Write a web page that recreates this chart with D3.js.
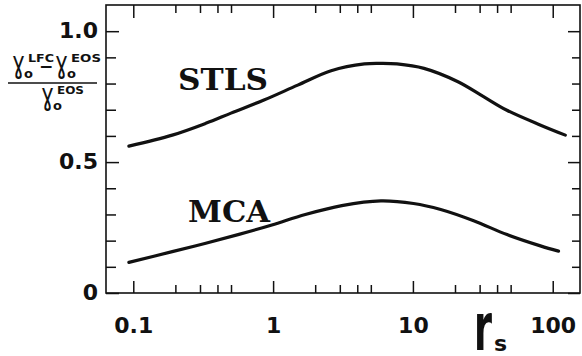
<!DOCTYPE html>
<html><head><meta charset="utf-8">
<script src="https://cdn.jsdelivr.net/npm/d3@7"></script>
<style>
html,body{margin:0;padding:0;background:#fff;}
svg{display:block;}
</style></head>
<body>
<script>
// ---- data ----
const stlsRs = [0.093, 0.19, 0.33, 0.5, 0.86, 1.5, 2.6, 4.5, 5.9, 7.7, 12, 21, 32, 47, 82, 123];
const stlsVals = [0.561, 0.603, 0.648, 0.687, 0.737, 0.794, 0.849, 0.875, 0.877, 0.875, 0.858, 0.807, 0.750, 0.698, 0.641, 0.603];
const mcaRs = [0.093, 0.19, 0.33, 0.57, 0.98, 1.7, 3.1, 5.9, 10.1, 15.8, 27.2, 47.1, 81.6, 110];
const mcaVals = [0.117, 0.158, 0.190, 0.224, 0.260, 0.300, 0.334, 0.352, 0.342, 0.319, 0.276, 0.223, 0.180, 0.160];
const xMajor = [0.1, 1, 10, 100];
const xMajorLabels = ["0.1", "1", "10", "100"];
const xMinor = [0.2, 0.3, 0.4, 0.5, 2, 3, 4, 5, 20, 30, 40, 50];
const yMajor = [0, 0.5, 1.0];
const yMajorLabels = ["0", "0.5", "1.0"];
const yMinor = [0.1, 0.2, 0.3, 0.4, 0.6, 0.7, 0.8, 0.9];

const W = 582, H = 356;
const L = 106, R = 580, T = 5, B = 293;

const svg = d3.select("body").append("svg").attr("width", W).attr("height", H);

const x = d3.scaleLog().domain([0.0638, 156.7]).range([L, R]);
const y = d3.scaleLinear().domain([0, 1.1]).range([B, T]);

const ink = "#111";
const tickFont = "'DejaVu Sans', sans-serif";

function axisGroup(axis, tx, ty) {
  const g = svg.append("g").attr("transform", `translate(${tx},${ty})`).call(axis);
  g.select(".domain").remove();
  g.selectAll(".tick line").attr("stroke", ink).attr("stroke-width", 1.5);
  return g;
}

// bottom major ticks with labels
const gb = axisGroup(d3.axisBottom(x).tickValues(xMajor).tickSize(-12).tickSizeOuter(0)
  .tickFormat((d, i) => xMajorLabels[i]), 0, B);
gb.selectAll(".tick text").attr("font-family", tickFont).attr("font-weight", "bold")
  .attr("font-size", 22).attr("fill", ink).attr("dy", "0").attr("y", 40);
axisGroup(d3.axisBottom(x).tickValues(xMinor).tickSize(-8).tickFormat(""), 0, B);
// top ticks
axisGroup(d3.axisTop(x).tickValues(xMajor).tickSize(-13).tickFormat(""), 0, T);
axisGroup(d3.axisTop(x).tickValues(xMinor).tickSize(-8).tickFormat(""), 0, T);

// left
const gl = axisGroup(d3.axisLeft(y).tickValues(yMajor).tickSize(-13)
  .tickFormat((d, i) => yMajorLabels[i]), L, 0);
gl.selectAll(".tick text").attr("font-family", tickFont).attr("font-weight", "bold")
  .attr("font-size", 22).attr("fill", ink).attr("x", -8).attr("dy", "0.3em");
axisGroup(d3.axisLeft(y).tickValues(yMinor).tickSize(-10).tickFormat(""), L, 0);
// right
axisGroup(d3.axisRight(y).tickValues(yMajor).tickSize(-12).tickFormat(""), R, 0);
axisGroup(d3.axisRight(y).tickValues(yMinor).tickSize(-8).tickFormat(""), R, 0);

// frame
svg.append("rect").attr("x", L).attr("y", T).attr("width", R - L).attr("height", B - T)
  .attr("fill", "none").attr("stroke", ink).attr("stroke-width", 1.6);

// curves
const line = d3.line().x(d => x(d[0])).y(d => y(d[1])).curve(d3.curveCatmullRom.alpha(0.5));
[[stlsRs, stlsVals], [mcaRs, mcaVals]].forEach(([xs, vs]) => {
  svg.append("path").datum(xs.map((r, i) => [r, vs[i]]))
    .attr("d", line).attr("fill", "none").attr("stroke", ink)
    .attr("stroke-width", 3.2).attr("stroke-linecap", "round");
});

// curve labels
const serif = "'DejaVu Serif', serif";
svg.append("text").attr("x", 178).attr("y", 90).text("STLS")
  .attr("font-family", serif).attr("font-weight", "bold").attr("font-size", 30)
  .attr("textLength", 90).attr("lengthAdjust", "spacingAndGlyphs").attr("fill", ink);
svg.append("text").attr("x", 188).attr("y", 222).text("MCA")
  .attr("font-family", serif).attr("font-weight", "bold").attr("font-size", 30)
  .attr("textLength", 82).attr("lengthAdjust", "spacingAndGlyphs").attr("fill", ink);

// x-axis title r_s
const rt = svg.append("text").attr("font-family", tickFont).attr("font-weight", "bold").attr("fill", ink);
rt.append("tspan").attr("x", 474).attr("y", 350).attr("font-size", 66)
  .attr("textLength", 18).attr("lengthAdjust", "spacingAndGlyphs").text("r");
rt.append("tspan").attr("x", 494).attr("y", 351).attr("font-size", 22).text("s");

// y-axis title: (γo^LFC − γo^EOS) / γo^EOS  — one text element per line
function gamParts(t, px, py, sup, supW) {
  t.append("tspan").attr("x", px).attr("y", py).attr("font-size", 31).attr("font-weight", "normal")
    .attr("textLength", 13).attr("lengthAdjust", "spacingAndGlyphs").text("ɣ");
  t.append("tspan").attr("x", px + 12).attr("y", py + 5).attr("font-size", 13).text("o");
  t.append("tspan").attr("x", px + 16).attr("y", py - 11).attr("font-size", 10)
    .attr("textLength", supW).attr("lengthAdjust", "spacingAndGlyphs").text(sup);
}
const num = svg.append("text").attr("font-family", tickFont).attr("font-weight", "bold").attr("fill", ink);
gamParts(num, 12, 73, "LFC", 26);
num.append("tspan").attr("x", 39).attr("y", 72).attr("font-size", 17).text("−");
gamParts(num, 55, 73, "EOS", 30);
svg.append("line").attr("x1", 8).attr("x2", 97).attr("y1", 83).attr("y2", 83)
  .attr("stroke", ink).attr("stroke-width", 1.3);
const den = svg.append("text").attr("font-family", tickFont).attr("font-weight", "bold").attr("fill", ink);
gamParts(den, 41, 105, "EOS", 27);
</script>
</body></html>
